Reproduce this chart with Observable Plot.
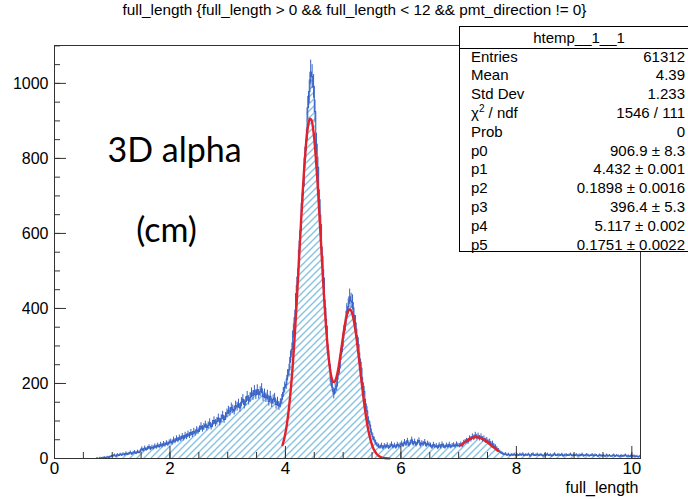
<!DOCTYPE html>
<html><head><meta charset="utf-8">
<script src="https://cdn.jsdelivr.net/npm/d3@7"></script>
<script src="https://cdn.jsdelivr.net/npm/@observablehq/plot@0.6"></script>
<style>
html,body{margin:0;padding:0;background:#fff;}
#wrap{position:relative;width:688px;height:499px;overflow:hidden;font-family:"Liberation Sans",Arial,sans-serif;}
#stats{position:absolute;left:459px;top:26px;width:240px;height:226px;border:1px solid #000;background:#fff;box-sizing:border-box;font-size:15px;color:#000;}
#stats .hd{position:absolute;left:0;right:0;top:0;height:21px;border-bottom:1px solid #000;text-align:center;line-height:21px;}
#stats .row{position:absolute;left:11px;right:13px;height:18px;line-height:18px;}
#stats .row .l{position:absolute;left:0;top:0;line-height:18px;}
#stats .row .v{position:absolute;right:0;top:0;line-height:18px;}
#stats sup{font-size:10px;line-height:0;vertical-align:6px;}
</style></head>
<body><div id="wrap"></div>
<script>
// ---- data ----
const binStart = 0.7, binWidth = 0.025;
const counts = [
// 0.70
0,1,0,2,1,2,3,2,4,3,5,6,
// 1.00
7,9,6,10,8,11,9,12,10,14,11,13,16,12,15,17,14,18,16,20,
// 1.50
26,22,28,24,27,31,26,30,28,33,30,35,32,37,34,39,36,41,38,43,
// 2.00
45,42,50,46,53,49,55,52,59,54,62,58,65,61,69,64,72,68,76,73,
// 2.50
78,86,79,84,90,83,88,96,85,92,101,94,99,108,97,106,115,104,112,121,
// 3.00
128,124,136,131,127,141,138,146,135,150,158,144,152,166,155,162,175,168,181,170,
// 3.50
183,171,178,186,165,172,162,169,152,166,148,157,161,144,151,140,147,158,176,190,
// 4.00
198,222,236,270,291,340,376,440,484,556,607,681,726,801,849,935,978,1030,1018,992,
// 4.50
925,838,776,690,624,540,481,402,353,288,251,206,190,172,186,193,224,241,278,299,
// 5.00
336,358,393,405,431,420,416,382,362,327,304,265,241,202,179,146,127,101,89,70,
// 5.50
58,50,42,36,33,30,35,28,34,31,36,29,33,38,31,35,30,37,33,36,
// 6.00
40,35,44,38,47,36,42,50,39,45,37,43,48,36,41,39,44,35,40,37,
// 6.50
35,30,37,32,34,29,36,31,38,33,30,35,32,37,31,34,36,33,38,35,
// 7.00
34,38,35,42,44,47,45,53,51,58,55,62,57,60,54,58,51,53,47,49,
// 7.50
43,45,38,40,33,31,26,22,18,15,13,11,12,9,11,8,10,9,11,8,
// 8.00
10,8,11,9,12,8,10,9,11,7,10,12,8,9,11,8,10,9,7,10,
// 8.50
9,11,8,10,7,9,12,8,9,10,8,11,7,9,10,8,9,11,8,9,
// 9.00
8,10,7,9,8,11,7,8,10,9,7,8,10,7,9,8,6,9,8,7,
// 9.50
8,6,9,7,8,6,7,9,6,8,7,5,8,6,7,9,6,7,5,8,
// 10.00
6,7,5,6,4,6
];
// double-gaussian fit curve (x from 3.95 to 5.80, step 0.025)
const fitStart = 3.95, fitStep = 0.025;
const fitY = [36,50,68,91,120,155,196,245,301,363,430,500,573,644,712,774,826,867,894,906,903,884,851,804,750,686,618,549,480,416,358,308,267,236,215,205,204,212,227,248,273,300,327,352,373,388,396,397,390,375,354,328,297,264,230,196,164,134,107,84,65,49,36,26,19,13,9,6,4,2.5,1.6,1,0.6,0.4,0.2];
// small bump fit near 7.3 (x from 7.04 to 7.68, step 0.04)
const bumpStart = 7.04, bumpStep = 0.04;
const bumpY = [35,40.5,45.4,49.7,53.1,55.6,56.8,56.8,55.6,53.1,49.7,45.4,40.5,35.4,30.2,25.3,20.6];

const xMajor = [0,2,4,6,8,10];
const yMajor = [0,200,400,600,800,1000];
const titleText = "full_length {full_length > 0 && full_length < 12 && pmt_direction != 0}";
const xTitle = "full_length";
const noteLines = ["3D alpha", "(cm)"];
const statsTitle = "htemp__1__1";
const statLabels = ["Entries","Mean","Std Dev","χ<sup>2</sup> / ndf","Prob","p0","p1","p2","p3","p4","p5"];
const statValues = ["61312","4.39","1.233","1546 / 111","0","906.9 ± 8.3","4.432 ± 0.001","0.1898 ± 0.0016","396.4 ± 5.3","5.117 ± 0.002","0.1751 ± 0.0022"];

// ---- tables ----
const bins = counts.map((c, i) => ({x0: binStart + i*binWidth, xc: binStart + (i+0.5)*binWidth, count: c}));
const steps = bins.concat([{x0: binStart + counts.length*binWidth, count: counts[counts.length-1]}]);
const fit = fitY.map((y, i) => ({x: fitStart + i*fitStep, y}));
const bump = bumpY.map((y, i) => ({x: bumpStart + i*bumpStep, y}));

const blue = "#3762c6", red = "#e3212b", hatch = "#86c3e2", axisCol = "#333";

const svg = Plot.plot({
  width: 688, height: 499,
  marginTop: 45, marginBottom: 41, marginLeft: 54, marginRight: 48,
  style: {fontFamily: "Liberation Sans, Arial, sans-serif", fontSize: "16px", background: "white", color: "#000", overflow: "visible"},
  x: {domain: [0, 10.15]},
  y: {domain: [0, 1101]},
  marks: [
    Plot.areaY(steps, {x: "x0", y: "count", curve: "step-after", fill: "url(#hatchPat)"}),
    Plot.ruleX(bins, {x: "xc", y1: d => Math.max(0, d.count - Math.sqrt(d.count)), y2: d => d.count + Math.sqrt(d.count), stroke: blue, strokeWidth: 1}),
    Plot.lineY(steps, {x: "x0", y: "count", curve: "step-after", stroke: blue, strokeWidth: 1.1}),
    Plot.line(fit, {x: "x", y: "y", stroke: red, strokeWidth: 2.4, curve: "catmull-rom"}),
    Plot.line(bump, {x: "x", y: "y", stroke: red, strokeWidth: 2.4, curve: "catmull-rom"}),
    Plot.frame({stroke: axisCol, strokeWidth: 1}),
    Plot.axisX(d3.range(0, 10.01, 0.5), {tickSize: -6, text: null, stroke: axisCol, label: null}),
    Plot.axisX(xMajor, {tickSize: -12, text: null, stroke: axisCol, label: null}),
    Plot.axisX(xMajor, {tickSize: 0, tickPadding: 3, fontSize: 17, label: null, fill: "#000"}),
    Plot.axisY(d3.range(0, 1101, 50), {tickSize: -6, text: null, stroke: axisCol, label: null}),
    Plot.axisY(yMajor, {tickSize: -12, text: null, stroke: axisCol, label: null}),
    Plot.axisY(yMajor, {tickSize: 0, tickPadding: 6, tickFormat: d3.format("d"), fontSize: 16, label: null, fill: "#000"}),
    Plot.text([xTitle], {frameAnchor: "bottom-right", dx: -2, dy: 29, textAnchor: "end", lineAnchor: "middle", fontSize: 16, fill: "#000"}),
    Plot.text([titleText], {frameAnchor: "top", dx: 7, dy: -35, lineAnchor: "middle", fontSize: 15.3, fill: "#000"}),
    Plot.text([noteLines[0]], {frameAnchor: "top-left", dx: 53, dy: 116, textAnchor: "start", lineAnchor: "bottom", fontSize: 34, fontFamily: "Lato", fill: "#000"}),
    Plot.text([noteLines[1]], {frameAnchor: "top-left", dx: 112, dy: 196, textAnchor: "middle", lineAnchor: "bottom", fontSize: 34, fontFamily: "Lato", fill: "#000"})
  ]
});

const defs = d3.select(svg).insert("defs", ":first-child");
const pat = defs.append("pattern").attr("id", "hatchPat").attr("patternUnits", "userSpaceOnUse").attr("width", 7).attr("height", 7);
pat.append("path").attr("d", "M0,7L7,0M-1,1L1,-1M6,8L8,6").attr("stroke", hatch).attr("stroke-width", 1.4).attr("fill", "none");

const wrap = document.getElementById("wrap");
wrap.appendChild(svg);

const box = document.createElement("div");
box.id = "stats";
let html = `<div class="hd">${statsTitle}</div>`;
statLabels.forEach((l, i) => {
  html += `<div class="row" style="top:${20.5 + i*18.8}px"><span class="l">${l}</span><span class="v">${statValues[i]}</span></div>`;
});
box.innerHTML = html;
wrap.appendChild(box);
</script>
</body></html>
